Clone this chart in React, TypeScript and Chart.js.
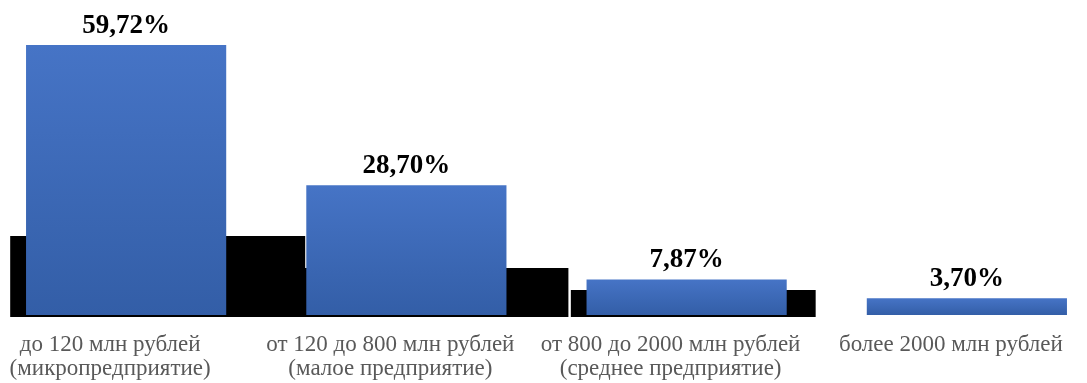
import React, { useEffect, useRef } from 'react';
import { Chart, registerables } from 'chart.js';

Chart.register(...registerables);

// Categories (x-axis labels, multi-line)
const categories: string[][] = [
  ['до 120 млн рублей', '(микропредприятие)'],
  ['от 120 до 800 млн рублей', '(малое предприятие)'],
  ['от 800 до 2000 млн рублей', '(среднее предприятие)'],
  ['более 2000 млн рублей'],
];

// Share of enterprises, %
const shares: number[] = [59.72, 28.7, 7.87, 3.7];

// Black stepped backdrop (x in category units, y in %)
const backdropStepsA = [
  { x: 0.086, y: 17.47 },
  { x: 1.139, y: 10.4 },
  { x: 2.079, y: 10.4 },
];
const backdropStepsB = [
  { x: 2.086, y: 5.53 },
  { x: 2.961, y: 5.53 },
];

const SERIF = '"Liberation Serif", "Times New Roman", serif';

const valueLabels = {
  id: 'valueLabels',
  afterDatasetsDraw(chart: any) {
    const meta = chart.getDatasetMeta(0);
    const c = chart.ctx;
    c.save();
    c.font = `bold 27px ${SERIF}`;
    c.fillStyle = '#000000';
    c.textAlign = 'center';
    c.textBaseline = 'alphabetic';
    meta.data.forEach((el: any, i: number) => {
      c.fillText(shares[i].toFixed(2).replace('.', ',') + '%', el.x, el.y - 12);
    });
    c.restore();
  },
};

export default function App() {
  const ref = useRef<HTMLCanvasElement>(null);

  useEffect(() => {
    if (!ref.current) return;
    const chart = new Chart(ref.current, {
      type: 'bar',
      data: {
        labels: categories as any,
        datasets: [
          {
            type: 'bar',
            data: shares,
            order: 0,
            grouped: false,
            barPercentage: 200 / 280,
            categoryPercentage: 1,
            borderWidth: 0,
            backgroundColor: (ctx: any) => {
              const ch = ctx.chart;
              if (!ch.chartArea || ctx.type !== 'data' || !ch.scales.y) return '#4472C4';
              const y = ch.scales.y;
              const top = y.getPixelForValue(shares[ctx.dataIndex]);
              const bottom = y.getPixelForValue(0);
              const g = ch.ctx.createLinearGradient(0, top, 0, bottom);
              g.addColorStop(0, '#4674C6');
              g.addColorStop(1, '#335EA7');
              return g;
            },
          } as any,
          {
            type: 'line',
            xAxisID: 'x2',
            data: backdropStepsA,
            order: 2,
            stepped: 'before',
            borderWidth: 0,
            borderColor: 'rgba(0,0,0,0)',
            pointRadius: 0,
            backgroundColor: '#000000',
            fill: { value: -0.45 },
          } as any,
          {
            type: 'line',
            xAxisID: 'x2',
            data: backdropStepsB,
            order: 2,
            stepped: 'before',
            borderWidth: 0,
            borderColor: 'rgba(0,0,0,0)',
            pointRadius: 0,
            backgroundColor: '#000000',
            fill: { value: -0.45 },
          } as any,
        ],
      },
      options: {
        responsive: false,
        animation: false,
        devicePixelRatio: 1,
        layout: { padding: { top: 10, bottom: 1, left: 0, right: 0 } },
        plugins: {
          legend: { display: false },
          tooltip: { enabled: false },
          filler: { drawTime: 'beforeDatasetsDraw' } as any,
        },
        scales: {
          x: {
            type: 'category',
            offset: true,
            grid: { display: false, drawTicks: false },
            border: { display: false },
            afterFit: (scale: any) => {
              scale.height = 65;
            },
            ticks: {
              padding: 16,
              labelOffset: -16,
              color: '#595959',
              maxRotation: 0,
              autoSkip: false,
              font: { family: SERIF, size: 23, lineHeight: 24 / 23 },
            },
          },
          x2: {
            type: 'linear',
            min: 0,
            max: 4,
            offset: false,
            display: false,
          },
          y: {
            min: -0.45,
            max: 67.45,
            display: false,
          },
        },
      },
      plugins: [valueLabels],
    });
    return () => chart.destroy();
  }, []);

  return (
    <div
      style={{
        position: 'fixed',
        left: 0,
        top: 0,
        width: 1087,
        height: 383,
        overflow: 'hidden',
        background: '#ffffff',
      }}
    >
      <canvas
        ref={ref}
        width={1121}
        height={383}
        style={{ position: 'absolute', left: -14, top: 0, width: 1121, height: 383 }}
      />
    </div>
  );
}
